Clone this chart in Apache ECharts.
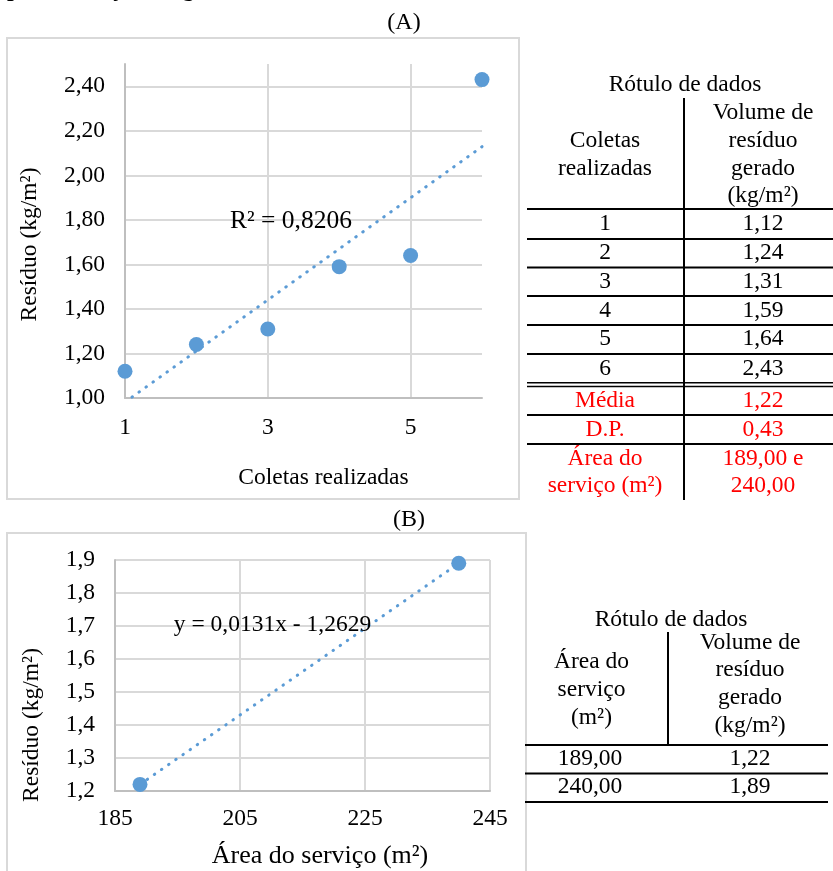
<!DOCTYPE html>
<html>
<head>
<meta charset="utf-8">
<script src="https://cdn.jsdelivr.net/npm/echarts@6/dist/echarts.min.js"></script>
<style>
html,body{margin:0;padding:0;background:#fff;}
#chart{width:833px;height:871px;}
</style>
</head>
<body>
<div id="chart"></div>
<script>
// ---------- data ----------
const coletas = [1, 2, 3, 4, 5, 6];
const residuoA = [1.12, 1.24, 1.31, 1.59, 1.64, 2.43];
const areaServico = [189, 240];
const residuoB = [1.22, 1.89];
const r2Label = 'R² = 0,8206';
const eqLabel = 'y = 0,0131x - 1,2629';
const resumoNomes = ['Média', 'D.P.', 'Área do\nserviço (m²)'];
const resumoValores = ['1,22', '0,43', '189,00 e\n240,00'];
const tabelaAColetas = ['1', '2', '3', '4', '5', '6'];
const tabelaAValores = ['1,12', '1,24', '1,31', '1,59', '1,64', '2,43'];
const tabelaBAreas = ['189,00', '240,00'];
const tabelaBValores = ['1,22', '1,89'];

// ---------- helpers ----------
const FONT = 'Liberation Serif, Times New Roman, serif';
const BLUE = '#5b9bd5';
function fit(xs, ys) {
  const n = xs.length;
  const mx = xs.reduce((a, b) => a + b, 0) / n;
  const my = ys.reduce((a, b) => a + b, 0) / n;
  let sxy = 0, sxx = 0;
  for (let i = 0; i < n; i++) { sxy += (xs[i] - mx) * (ys[i] - my); sxx += (xs[i] - mx) ** 2; }
  const b = sxy / sxx, a = my - b * mx;
  const x0 = Math.min(...xs), x1 = Math.max(...xs);
  return [[x0, a + b * x0], [x1, a + b * x1]];
}
const comma = d => v => v.toFixed(d).replace('.', ',');

function txt(text, x, y, opts) {
  opts = opts || {};
  return {
    type: 'text', x: x, y: y, rotation: opts.rotation || 0, z: 10,
    style: {
      text: text,
      fontFamily: FONT,
      fontSize: opts.size || 23.5,
      fontWeight: opts.weight || 'normal',
      fill: opts.color || '#000',
      align: opts.align || 'center', textAlign: opts.align || 'center',
      verticalAlign: opts.va || 'middle', textVerticalAlign: opts.va || 'middle',
      lineHeight: opts.lh || 27.7
    }
  };
}
function hline(x1, x2, y, w) {
  return { type: 'line', z: 10, shape: { x1: x1, y1: y, x2: x2, y2: y }, style: { stroke: '#000', lineWidth: w || 2 } };
}
function vline(x, y1, y2, w) {
  return { type: 'line', z: 10, shape: { x1: x, y1: y1, x2: x, y2: y2 }, style: { stroke: '#000', lineWidth: w || 2 } };
}

// ---------- graphic elements ----------
const g = [];
// cut-off heading at the very top (only its descenders are visible)
g.push(txt('padronização do gerenciamento', 7, 4, { align: 'left', va: 'bottom', weight: 'bold', size: 24 }));
// frames
g.push({ type: 'rect', z: 0, shape: { x: 7, y: 38, width: 512, height: 461 }, style: { fill: 'none', stroke: '#d9d9d9', lineWidth: 2 } });
g.push({ type: 'rect', z: 0, shape: { x: 7, y: 533, width: 519, height: 360 }, style: { fill: 'none', stroke: '#d9d9d9', lineWidth: 2 } });
// panel letters
g.push(txt('(A)', 404, 23, { size: 24 }));
g.push(txt('(B)', 409, 520, { size: 24 }));
// chart A texts
g.push(txt(r2Label, 291, 221, { size: 25.5 }));
g.push(txt('Coletas realizadas', 323.5, 478, { size: 23.5 }));
g.push(txt('Resíduo (kg/m²)', 30, 244.5, { size: 23.5, rotation: Math.PI / 2 }));
// chart B texts
g.push(txt(eqLabel, 272.5, 625, { size: 23.5 }));
g.push(txt('Área do serviço (m²)', 320, 856, { size: 26 }));
g.push(txt('Resíduo (kg/m²)', 32, 725, { size: 23.5, rotation: Math.PI / 2 }));

// table A
const tAx = [605, 763];
g.push(txt('Rótulo de dados', 685, 85));
g.push(txt('Coletas\nrealizadas', tAx[0], 155));
g.push(txt('Volume de\nresíduo\ngerado\n(kg/m²)', tAx[1], 154.5));
g.push(vline(684, 98, 500));
g.push(hline(527, 833, 209));
const rowYA = [224, 253, 282, 310.5, 339, 368.5];
const rowLinesA = [239, 267.5, 296, 325, 354];
tabelaAColetas.forEach((c, i) => {
  g.push(txt(c, tAx[0], rowYA[i]));
  g.push(txt(tabelaAValores[i], tAx[1], rowYA[i]));
});
rowLinesA.forEach(y => g.push(hline(527, 833, y)));
g.push(hline(527, 833, 382.7, 1.4));
g.push(hline(527, 833, 386.5, 1.4));
const resumoY = [401, 430, 472.3];
resumoNomes.forEach((n, i) => {
  g.push(txt(n, tAx[0], resumoY[i], { color: '#ff0000' }));
  g.push(txt(resumoValores[i], tAx[1], resumoY[i], { color: '#ff0000' }));
});
g.push(hline(527, 833, 415));
g.push(hline(527, 833, 444));

// table B
g.push(txt('Rótulo de dados', 671, 620));
g.push(txt('Área do\nserviço\n(m²)', 591.5, 690));
g.push(txt('Volume de\nresíduo\ngerado\n(kg/m²)', 750, 684));
g.push(vline(668, 632, 745));
g.push(hline(525, 828, 745));
g.push(hline(525, 828, 773.5));
g.push(hline(525, 828, 802));
const rowYB = [759, 787];
tabelaBAreas.forEach((a, i) => {
  g.push(txt(a, 590, rowYB[i]));
  g.push(txt(tabelaBValores[i], 750, rowYB[i]));
});

// ---------- axes ----------
const axisLabel = (margin, fmt) => ({ color: '#000', fontFamily: FONT, fontSize: 23.5, margin: margin, formatter: fmt });
const axisLine = { show: true, lineStyle: { color: '#bfbfbf', width: 2 } };
const split = (showMax) => ({ show: true, showMinLine: false, showMaxLine: showMax, lineStyle: { color: '#d9d9d9', width: 2 } });

const trendA = fit(coletas, residuoA);
const trendB = fit(areaServico, residuoB);

const option = {
  animation: false,
  backgroundColor: '#fff',
  grid: [
    { left: 125, top: 64, width: 357, height: 334 },
    { left: 115, top: 560, width: 375, height: 231 }
  ],
  xAxis: [
    { type: 'value', gridIndex: 0, min: 1, max: 6, interval: 2, axisLine: axisLine, axisTick: { show: false },
      axisLabel: Object.assign(axisLabel(18, v => String(v)), { showMaxLabel: false }), splitLine: split(false) },
    { type: 'value', gridIndex: 1, min: 185, max: 245, interval: 20, axisLine: axisLine, axisTick: { show: false },
      axisLabel: axisLabel(16, v => String(v)), splitLine: split(true) }
  ],
  yAxis: [
    { type: 'value', gridIndex: 0, min: 1, max: 2.5, interval: 0.2, axisLine: axisLine, axisTick: { show: false },
      axisLabel: Object.assign(axisLabel(20, comma(2)), { showMaxLabel: false }), splitLine: split(false) },
    { type: 'value', gridIndex: 1, min: 1.2, max: 1.9, interval: 0.1, axisLine: axisLine, axisTick: { show: false },
      axisLabel: axisLabel(20, comma(1)), splitLine: split(true) }
  ],
  series: [
    { type: 'line', xAxisIndex: 0, yAxisIndex: 0, data: trendA, symbol: 'none', clip: true, silent: true, z: 2,
      lineStyle: { color: BLUE, width: 3, type: [0.5, 8.1], cap: 'round' } },
    { type: 'scatter', xAxisIndex: 0, yAxisIndex: 0, data: coletas.map((x, i) => [x, residuoA[i]]), symbolSize: 15, z: 3,
      itemStyle: { color: BLUE, opacity: 1 }, clip: false },
    { type: 'line', xAxisIndex: 1, yAxisIndex: 1, data: trendB, symbol: 'none', clip: true, silent: true, z: 2,
      lineStyle: { color: BLUE, width: 3, type: [0.5, 8.2], cap: 'round' } },
    { type: 'scatter', xAxisIndex: 1, yAxisIndex: 1, data: areaServico.map((x, i) => [x, residuoB[i]]), symbolSize: 15, z: 3,
      itemStyle: { color: BLUE, opacity: 1 }, clip: false }
  ],
  graphic: { elements: g }
};
const chart = echarts.init(document.getElementById('chart'), null, { renderer: 'canvas' });
chart.setOption(option);
</script>
</body>
</html>
